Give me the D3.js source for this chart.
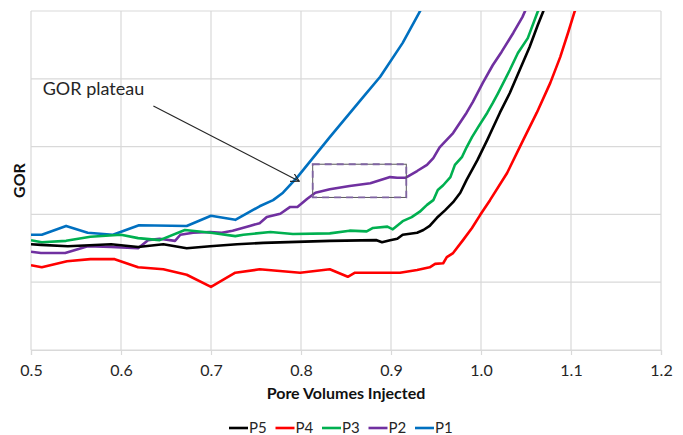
<!DOCTYPE html>
<html>
<head>
<meta charset="utf-8">
<script src="https://cdn.jsdelivr.net/npm/d3@7"></script>
<style>
  body { margin: 0; background: #fff; }
  text { font-family: Lato, "Open Sans", sans-serif; }
</style>
</head>
<body>
<div id="chart"></div>
<script>
// pore volumes injected vs GOR (relative units)
var p5 = [[0.5,1.56],[0.511,1.55],[0.541,1.53],[0.589,1.56],[0.619,1.52],[0.647,1.56],[0.673,1.50],[0.699,1.53],
  [0.729,1.56],[0.758,1.58],[0.832,1.61],[0.884,1.62],[0.89,1.59],[0.899,1.62],[0.907,1.64],[0.913,1.70],
  [0.929,1.73],[0.936,1.77],[0.943,1.83],[0.951,1.95],[0.96,2.06],[0.969,2.18],[0.977,2.32],[0.984,2.51],
  [0.996,2.80],[1.007,3.10],[1.013,3.27],[1.021,3.50],[1.032,3.79],[1.043,4.13],[1.054,4.47],[1.063,4.79],
  [1.069,4.99],[1.074,5.16]];
var p4 = [[0.5,1.25],[0.512,1.22],[0.54,1.31],[0.566,1.34],[0.593,1.34],[0.619,1.22],[0.647,1.19],[0.673,1.11],
  [0.7,0.93],[0.727,1.14],[0.754,1.19],[0.799,1.14],[0.832,1.19],[0.852,1.08],[0.86,1.14],[0.877,1.14],
  [0.899,1.14],[0.91,1.14],[0.929,1.18],[0.943,1.22],[0.949,1.27],[0.958,1.28],[0.962,1.37],[0.969,1.43],
  [0.98,1.62],[0.99,1.80],[0.999,1.99],[1.01,2.21],[1.029,2.61],[1.047,3.10],[1.062,3.50],[1.077,3.94],
  [1.088,4.32],[1.097,4.69],[1.104,4.99],[1.109,5.16]];
var p3 = [[0.5,1.62],[0.512,1.59],[0.539,1.61],[0.566,1.67],[0.6,1.70],[0.619,1.65],[0.643,1.62],[0.671,1.77],
  [0.7,1.73],[0.727,1.68],[0.736,1.70],[0.766,1.74],[0.791,1.71],[0.832,1.72],[0.854,1.76],[0.873,1.75],
  [0.88,1.80],[0.896,1.82],[0.902,1.78],[0.913,1.90],[0.923,1.96],[0.932,2.04],[0.94,2.14],[0.947,2.21],
  [0.952,2.36],[0.958,2.43],[0.966,2.55],[0.971,2.73],[0.979,2.85],[0.984,2.99],[0.99,3.14],[0.997,3.29],
  [1.007,3.50],[1.013,3.64],[1.019,3.79],[1.032,4.13],[1.041,4.38],[1.052,4.60],[1.063,4.99],[1.071,5.16]];
var p2 = [[0.5,1.45],[0.511,1.43],[0.538,1.43],[0.563,1.53],[0.589,1.52],[0.619,1.50],[0.63,1.62],[0.643,1.64],
  [0.66,1.61],[0.666,1.70],[0.68,1.73],[0.699,1.74],[0.712,1.73],[0.724,1.76],[0.743,1.83],[0.754,1.87],
  [0.762,1.96],[0.777,2.01],[0.788,2.11],[0.796,2.11],[0.807,2.23],[0.816,2.32],[0.832,2.37],[0.854,2.42],
  [0.877,2.46],[0.899,2.55],[0.907,2.54],[0.916,2.54],[0.929,2.64],[0.94,2.73],[0.947,2.83],[0.954,2.99],
  [0.969,3.20],[0.984,3.50],[0.991,3.66],[1.002,3.94],[1.013,4.20],[1.023,4.40],[1.036,4.68],[1.046,4.91],
  [1.052,5.09]];
var p1 = [[0.5,1.70],[0.512,1.70],[0.539,1.83],[0.563,1.73],[0.591,1.70],[0.62,1.84],[0.673,1.83],[0.7,1.98],
  [0.727,1.92],[0.754,2.12],[0.769,2.21],[0.78,2.32],[0.796,2.55],[0.832,3.14],[0.869,3.73],[0.888,4.03],
  [0.913,4.53],[0.932,4.99],[0.938,5.16]];

var seriesNames = ["P5", "P4", "P3", "P2", "P1"];
var seriesData = [p5, p4, p3, p2, p1];
var seriesColors = ["#000000", "#ff0000", "#00b050", "#7030a0", "#0070c0"];
var xTicks = [0.5, 0.6, 0.7, 0.8, 0.9, 1.0, 1.1, 1.2];
var yTicks = [0, 1, 2, 3, 4, 5];
// plateau box and the note pointing at it
var plateauBox = {x0: 0.813, x1: 0.917, y0: 2.25, y1: 2.74};
var noteText = "GOR plateau";

var svgWidth = 683;
var svgHeight = 435;
var margin = {top: 11, right: 22, bottom: 85, left: 31};
var width = svgWidth - margin.left - margin.right;
var height = svgHeight - margin.top - margin.bottom;

var svg = d3.select("#chart")
    .append("svg")
    .attr("width", svgWidth)
    .attr("height", svgHeight);

var chartGroup = svg.append("g")
    .attr("transform", `translate(${margin.left}, ${margin.top})`);

var x = d3.scaleLinear().domain([0.5, 1.2]).range([0, width]);
var y = d3.scaleLinear().domain([0, 5]).range([height, 0]);

// gridlines
chartGroup.append("g").selectAll("line.h")
    .data(yTicks).enter().append("line")
    .attr("x1", 0).attr("x2", width)
    .attr("y1", d => y(d)).attr("y2", d => y(d))
    .attr("stroke", "#d9d9d9").attr("stroke-width", 1.2);
chartGroup.append("g").selectAll("line.v")
    .data(xTicks).enter().append("line")
    .attr("x1", d => x(d)).attr("x2", d => x(d))
    .attr("y1", 0).attr("y2", height)
    .attr("stroke", "#d9d9d9").attr("stroke-width", 1.2);

// x axis
var bottomAxis = d3.axisBottom(x).tickValues(xTicks).tickFormat(d3.format(".1f")).tickSize(5).tickPadding(10);
var xAxis = chartGroup.append("g")
    .attr("transform", `translate(0, ${height})`)
    .call(bottomAxis);
xAxis.select(".domain").attr("stroke", "#d9d9d9").attr("stroke-width", 1.2);
xAxis.selectAll(".tick line").attr("stroke", "#d9d9d9").attr("stroke-width", 1.2);
xAxis.selectAll(".tick text")
    .attr("fill", "#262626")
    .style("font-size", "16px")
    .style("font-family", "Lato, sans-serif");

// clip lines at the plot edges
svg.append("defs").append("clipPath").attr("id", "plotClip")
    .append("rect").attr("x", 0).attr("y", 0).attr("width", width).attr("height", height);

var line = d3.line().x(d => x(d[0])).y(d => y(d[1]));

var lines = chartGroup.append("g").attr("clip-path", "url(#plotClip)");
// draw P1 first so P5 sits on top, like the reference
for (var i = seriesData.length - 1; i >= 0; i--) {
    lines.append("path")
        .datum(seriesData[i])
        .attr("d", line)
        .attr("fill", "none")
        .attr("stroke", seriesColors[i])
        .attr("stroke-width", 2.6)
        .attr("stroke-linejoin", "round");
}

// dashed plateau box
var bx = x(plateauBox.x0), by = y(plateauBox.y1);
var bw = x(plateauBox.x1) - bx, bh = y(plateauBox.y0) - by;
chartGroup.append("rect")
    .attr("x", bx).attr("y", by).attr("width", bw).attr("height", bh)
    .attr("fill", "none").attr("stroke", "#595959").attr("stroke-width", 1);
chartGroup.append("rect")
    .attr("x", bx).attr("y", by).attr("width", bw).attr("height", bh)
    .attr("fill", "none").attr("stroke", "#8064a2").attr("stroke-width", 1.8)
    .attr("stroke-dasharray", "7,5");

// annotation
svg.append("defs").append("marker")
    .attr("id", "arrow")
    .attr("viewBox", "0 0 10 10")
    .attr("refX", 9).attr("refY", 5)
    .attr("markerWidth", 9).attr("markerHeight", 9)
    .attr("markerUnits", "userSpaceOnUse")
    .attr("orient", "auto")
    .append("path")
    .attr("d", "M0,0 L9,5 L0,10")
    .attr("fill", "none").attr("stroke", "#262626").attr("stroke-width", 1.3);

chartGroup.append("text")
    .attr("x", x(0.513)).attr("y", y(3.76))
    .attr("fill", "#262626")
    .style("font-size", "18px")
    .text(noteText);
chartGroup.append("line")
    .attr("x1", x(0.636)).attr("y1", y(3.6))
    .attr("x2", x(0.798)).attr("y2", y(2.49))
    .attr("stroke", "#262626").attr("stroke-width", 1.2)
    .attr("marker-end", "url(#arrow)");

// axis labels
chartGroup.append("text")
    .attr("transform", `translate(${-6}, ${height / 2}) rotate(-90)`)
    .attr("text-anchor", "middle")
    .style("font-size", "16px")
    .style("font-weight", "bold")
    .attr("fill", "#111")
    .text("GOR");
chartGroup.append("text")
    .attr("x", x(0.85)).attr("y", height + 49)
    .attr("text-anchor", "middle")
    .style("font-size", "16px")
    .style("font-weight", "bold")
    .attr("fill", "#111")
    .text("Pore Volumes Injected");

// legend
var legend = svg.append("g").attr("transform", "translate(229, 428)");
var item = legend.selectAll("g")
    .data(seriesNames).enter().append("g")
    .attr("transform", (d, i) => `translate(${i * 46.5}, 0)`);
item.append("line")
    .attr("x1", 0).attr("x2", 19).attr("y1", 0).attr("y2", 0)
    .attr("stroke", (d, i) => seriesColors[i]).attr("stroke-width", 2.6);
item.append("text")
    .attr("x", 20).attr("y", 5)
    .style("font-size", "15px")
    .attr("fill", "#262626")
    .text(d => d);
</script>
</body>
</html>
